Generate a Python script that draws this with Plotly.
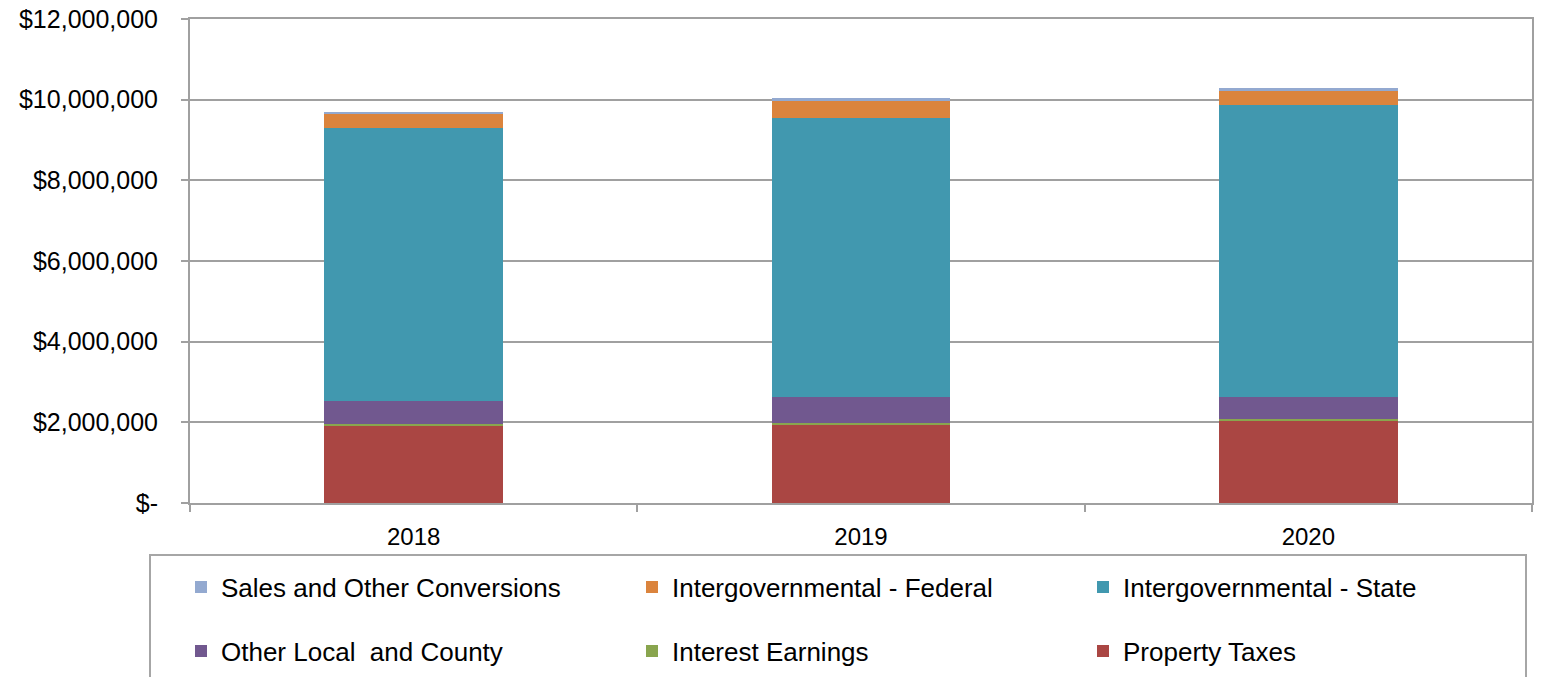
import plotly.graph_objects as go

years = ["2018", "2019", "2020"]
property_taxes = [1900000, 1940000, 2030000]
interest_earnings = [50000, 50000, 50000]
other_local_county = [570000, 630000, 540000]
intergov_state = [6790000, 6930000, 7250000]
intergov_federal = [340000, 420000, 350000]
sales_other = [40000, 67000, 60000]

y_tickvals = [0, 2000000, 4000000, 6000000, 8000000, 10000000, 12000000]
y_ticktext = ["$-", "$2,000,000", "$4,000,000", "$6,000,000", "$8,000,000", "$10,000,000", "$12,000,000"]

series = [
    ("Property Taxes", property_taxes, "#AA4643", "legend2"),
    ("Interest Earnings", interest_earnings, "#89A54E", "legend2"),
    ("Other Local  and County", other_local_county, "#71588F", "legend2"),
    ("Intergovernmental - State", intergov_state, "#4198AF", "legend"),
    ("Intergovernmental - Federal", intergov_federal, "#DB843D", "legend"),
    ("Sales and Other Conversions", sales_other, "#93A9D0", "legend"),
]

FONT = "Liberation Sans, Arial, sans-serif"
GRID = "#a0a0a0"

fig = go.Figure()
for name, vals, color, lg in series:
    fig.add_trace(go.Bar(
        x=years, y=vals, name=name, legend=lg,
        marker=dict(color=color, line=dict(width=0)),
    ))

W, H = 1542, 677
ml, mr, mt, mb = 190, 10, 19, 174
pw = W - ml - mr
ph = H - mt - mb

def px_x(p):
    return (p - ml) / pw

def px_y(p):
    return (H - mb - p) / ph

legend_common = dict(
    orientation="h",
    traceorder="reversed",
    entrywidth=414,
    entrywidthmode="pixels",
    indentation=-8,
    font=dict(family=FONT, size=26, color="#000000"),
    bgcolor="rgba(0,0,0,0)",
    borderwidth=0,
    xanchor="left",
    yanchor="middle",
    itemclick=False,
)

fig.update_layout(
    width=W, height=H,
    margin=dict(l=ml, r=mr, t=mt, b=mb, autoexpand=False),
    paper_bgcolor="white", plot_bgcolor="white",
    barmode="stack",
    bargap=0.6,
    font=dict(family=FONT, size=24, color="#000000"),
    showlegend=True,
    legend=dict(x=px_x(189), y=px_y(587), **legend_common),
    legend2=dict(x=px_x(189), y=px_y(651), **legend_common),
    xaxis=dict(
        type="category",
        showline=True, linecolor=GRID, linewidth=2, mirror=True,
        ticks="outside", tickson="boundaries", ticklen=7, tickcolor=GRID, tickwidth=2,
        showgrid=False,
        tickfont=dict(family=FONT, size=24, color="#000000"),
        ticklabelstandoff=11,
    ),
    yaxis=dict(
        range=[0, 12000000],
        tickvals=y_tickvals, ticktext=y_ticktext,
        showline=True, linecolor=GRID, linewidth=2, mirror=True,
        ticks="outside", ticklen=7, tickcolor=GRID, tickwidth=2,
        showgrid=True, gridcolor=GRID, gridwidth=2,
        zeroline=False,
        tickfont=dict(family=FONT, size=25, color="#000000"),
        ticklabelstandoff=18,
        ticklabeloverflow="allow",
    ),
    shapes=[dict(
        type="rect", xref="paper", yref="paper",
        x0=px_x(150), x1=px_x(1526), y0=px_y(555), y1=px_y(720),
        line=dict(color="#a6a6a6", width=2), fillcolor="rgba(0,0,0,0)",
        layer="below",
    )],
)

fig.write_html(
    "out.html",
    config={"displayModeBar": False},
    post_script="document.body.style.margin='0px';",
)
